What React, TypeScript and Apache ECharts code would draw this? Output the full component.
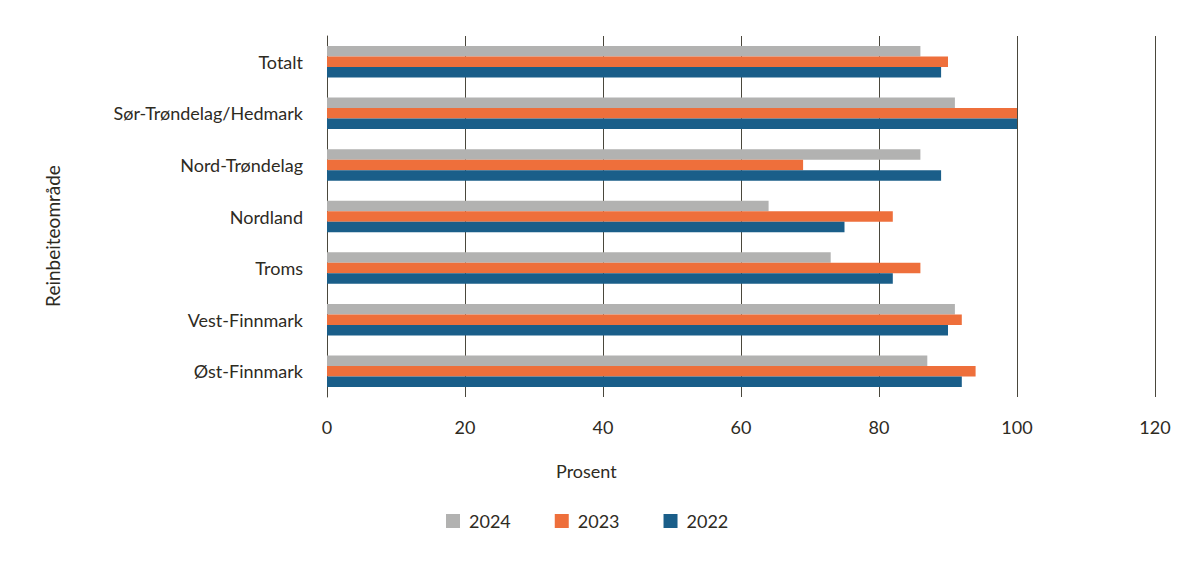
import { useEffect, useRef } from "react";
import * as echarts from "echarts";

// Reinbeiteområder, top to bottom as in the figure.
const AREAS = [
  "Totalt",
  "Sør-Trøndelag/Hedmark",
  "Nord-Trøndelag",
  "Nordland",
  "Troms",
  "Vest-Finnmark",
  "Øst-Finnmark",
];

const Y2024 = [86, 91, 86, 64, 73, 91, 87];
const Y2023 = [90, 100, 69, 82, 86, 92, 94];
const Y2022 = [89, 100, 89, 75, 82, 90, 92];

const SERIES = [
  { name: "2024", data: Y2024, color: "#b2b2b1" },
  { name: "2023", data: Y2023, color: "#ee6f3b" },
  { name: "2022", data: Y2022, color: "#1a5e89" },
];

const INK = "#2e2b1f";
const FONT = "Lato, 'Noto Sans', sans-serif";

export default function App() {
  const boxRef = useRef<HTMLDivElement>(null);

  useEffect(() => {
    document.body.style.margin = "0";
    if (!boxRef.current) return;
    const chart = echarts.init(boxRef.current, undefined, { renderer: "svg" });
    chart.setOption({
      animation: false,
      textStyle: { fontFamily: FONT, color: INK },
      grid: { left: 327, right: 43, top: 36, bottom: 171 },
      xAxis: {
        type: "value",
        min: 0,
        max: 120,
        interval: 20,
        axisLine: { show: false },
        axisTick: { show: false },
        axisLabel: { color: INK, fontSize: 18, margin: 21, fontFamily: FONT },
        splitLine: { show: true, lineStyle: { color: "#4a473c", width: 1 } },
      },
      yAxis: {
        type: "category",
        data: AREAS,
        inverse: true,
        axisLine: { show: true, lineStyle: { color: "#4a473c", width: 1 } },
        axisTick: { show: false },
        axisLabel: { color: INK, fontSize: 18, margin: 24, fontFamily: FONT },
      },
      legend: {
        left: 441,
        top: 507,
        itemWidth: 14,
        itemHeight: 14,
        itemGap: 44,
        icon: "rect",
        textStyle: { color: INK, fontSize: 18, fontFamily: FONT, padding: [0, 0, 0, 4] },
        data: SERIES.map((s) => s.name),
      },
      graphic: [
        {
          type: "text",
          left: 556,
          top: 462,
          style: { text: "Prosent", fill: INK, font: `18px ${FONT}` },
        },
        {
          type: "text",
          x: 52,
          y: 236,
          rotation: Math.PI / 2,
          style: {
            text: "Reinbeiteområde",
            fill: INK,
            font: `19px ${FONT}`,
            align: "center",
            verticalAlign: "middle",
          },
        },
      ],
      series: SERIES.map((s) => ({
        name: s.name,
        type: "bar",
        data: s.data,
        barWidth: 10.5,
        barGap: "0%",
        itemStyle: { color: s.color },
      })),
    });
    return () => chart.dispose();
  }, []);

  return <div ref={boxRef} style={{ width: 1198, height: 568 }} />;
}
